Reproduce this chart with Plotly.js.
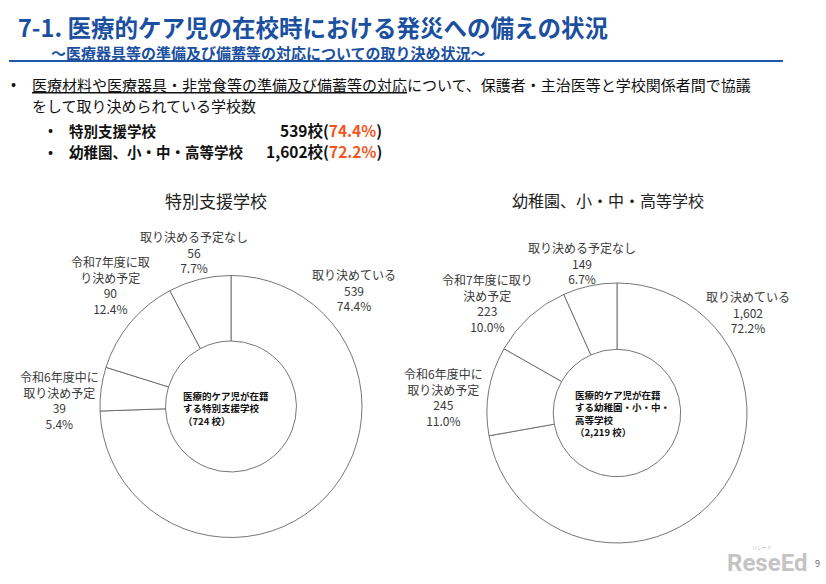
<!DOCTYPE html>
<html>
<head>
<meta charset="utf-8">
<script src="https://cdn.plot.ly/plotly-3.0.1.min.js"></script>
<style>
html,body{margin:0;padding:0;background:#fff;}
#chart{width:826px;height:584px;}
</style>
</head>
<body>
<div id="chart"></div>
<script>
// ---- data ----
const categories = ["取り決めている", "令和6年度中に取り決め予定", "令和7年度に取り決め予定", "取り決める予定なし"];
const schoolTypes = ["特別支援学校", "幼稚園、小・中・高等学校"];
const valuesSpecial = [539, 39, 90, 56];
const valuesGeneral = [1602, 245, 223, 149];
const labelsSpecialWrapped = ["取り決めている", "令和6年度中に<br>取り決め予定", "令和7年度に取<br>り決め予定", "取り決める予定なし"];
const labelsGeneralWrapped = ["取り決めている", "令和6年度中に<br>取り決め予定", "令和7年度に取り<br>決め予定", "取り決める予定なし"];
const centerTexts = ["医療的ケア児が在籍<br>する特別支援学校", "医療的ケア児が在籍<br>する幼稚園・小・中・<br>高等学校"];
const mainTitle = "7-1. 医療的ケア児の在校時における発災への備えの状況";
const subTitle = "～医療器具等の準備及び備蓄等の対応についての取り決め状況～";
const bulletUnderlined = "医療材料や医療器具・非常食等の準備及び備蓄等の対応";
const bulletRest = "について、保護者・主治医等と学校関係者間で協議";
const bulletLine2 = "をして取り決められている学校数";

// ---- helpers ----
const W = 826, H = 584;
const px = x => x / W;
const py = y => 1 - y / H;
const FONT = '"Noto Sans CJK JP", "Noto Sans", sans-serif';
const fmt = n => n.toLocaleString('en-US');
const total = arr => arr.reduce((a, b) => a + b, 0);
const pct = (v, arr) => (v / total(arr) * 100).toFixed(1) + '%';

const lineStyle = {color: '#666', width: 0.9};

const traces = [
  {
    type: 'pie', values: valuesSpecial, labels: categories,
    sort: false, direction: 'clockwise', rotation: 0, hole: 0.5,
    marker: {colors: categories.map(() => '#ffffff'), line: lineStyle},
    textinfo: 'none', hoverinfo: 'skip', showlegend: false,
    domain: {x: [px(100), px(362)], y: [py(538), py(275)]}
  },
  {
    type: 'pie', values: valuesGeneral, labels: categories,
    sort: false, direction: 'clockwise', rotation: 0, hole: 0.49,
    marker: {colors: categories.map(() => '#ffffff'), line: lineStyle},
    textinfo: 'none', hoverinfo: 'skip', showlegend: false,
    domain: {x: [px(487), px(747)], y: [py(543), py(283)]}
  }
];

const ann = [];
function addText(text, x, y, opts) {
  ann.push(Object.assign({
    text: text, x: px(x), y: py(y), xref: 'paper', yref: 'paper',
    showarrow: false, xanchor: 'left', yanchor: 'middle',
    font: {family: FONT, size: 12, color: '#222'}
  }, opts || {}));
}

// header
addText('<b>' + mainTitle + '</b>', 16, 27, {font: {family: FONT, size: 23.5, color: '#1b50a0'}});
addText('<b>' + subTitle + '</b>', 49, 52, {font: {family: FONT, size: 15, color: '#1b50a0'}});

// bullets
addText('•', 9, 83, {font: {family: FONT, size: 15, color: '#111'}});
addText('<u>' + bulletUnderlined + '</u>' + bulletRest, 30, 85, {font: {family: FONT, size: 15, color: '#111'}});
addText(bulletLine2, 30, 105, {font: {family: FONT, size: 15, color: '#111'}});
const summaryVals = [valuesSpecial, valuesGeneral];
const summaryY = [130, 151];
schoolTypes.forEach((s, i) => {
  addText('•', 46, summaryY[i] - 1, {font: {family: FONT, size: 15, color: '#111'}});
  addText('<b>' + s + '</b>', 67, summaryY[i], {font: {family: FONT, size: 14.5, color: '#111'}});
  const v = summaryVals[i];
  addText('<b>' + fmt(v[0]) + '校(<span style="color:#f0561e">' + pct(v[0], v) + '</span>)</b>',
    384, summaryY[i], {xanchor: 'right', font: {family: FONT, size: 15.5, color: '#111'}});
});

// pie titles
addText(schoolTypes[0], 216, 200, {xanchor: 'center', font: {family: FONT, size: 17, color: '#222'}});
addText(schoolTypes[1], 608, 200, {xanchor: 'center', font: {family: FONT, size: 16, color: '#222'}});

// slice labels
const labelPosSpecial = [[354, 290], [59, 400], [111, 285], [194, 252]];
const labelPosGeneral = [[748, 312], [444, 397], [487, 303], [582, 263]];
function sliceLabels(vals, wrapped, pos) {
  vals.forEach((v, i) => {
    addText(wrapped[i] + '<br>' + fmt(v) + '<br>' + pct(v, vals), pos[i][0], pos[i][1],
      {xanchor: 'center', align: 'center', font: {family: FONT, size: 12, color: '#3a3a3a'}});
  });
}
sliceLabels(valuesSpecial, labelsSpecialWrapped, labelPosSpecial);
sliceLabels(valuesGeneral, labelsGeneralWrapped, labelPosGeneral);

// center texts
addText('<b>' + centerTexts[0] + '<br>（' + fmt(total(valuesSpecial)) + ' 校）</b>', 181, 408,
  {align: 'left', font: {family: FONT, size: 9.5, color: '#111'}});
addText('<b>' + centerTexts[1] + '<br>（' + fmt(total(valuesGeneral)) + ' 校）</b>', 573, 414,
  {align: 'left', font: {family: FONT, size: 9.5, color: '#111'}});

// watermark
addText('<b>ReseEd</b>', 809, 563, {xanchor: 'right', font: {family: 'Roboto, sans-serif', size: 24, color: '#c4c4c4'}});
addText('リシード', 750, 546, {xanchor: 'left', font: {family: FONT, size: 5, color: '#bbb'}});
addText('9', 817, 563, {xanchor: 'center', font: {family: FONT, size: 9, color: '#666'}});

const layout = {
  width: W, height: H,
  margin: {l: 0, r: 0, t: 0, b: 0},
  paper_bgcolor: '#fff', plot_bgcolor: '#fff',
  showlegend: false,
  annotations: ann,
  shapes: [
    {type: 'line', xref: 'paper', yref: 'paper', x0: px(9), x1: px(783), y0: py(61), y1: py(61),
     line: {color: '#1f58a8', width: 2}}
  ]
};

Plotly.newPlot('chart', traces, layout, {displayModeBar: false, staticPlot: true});
</script>
</body>
</html>
